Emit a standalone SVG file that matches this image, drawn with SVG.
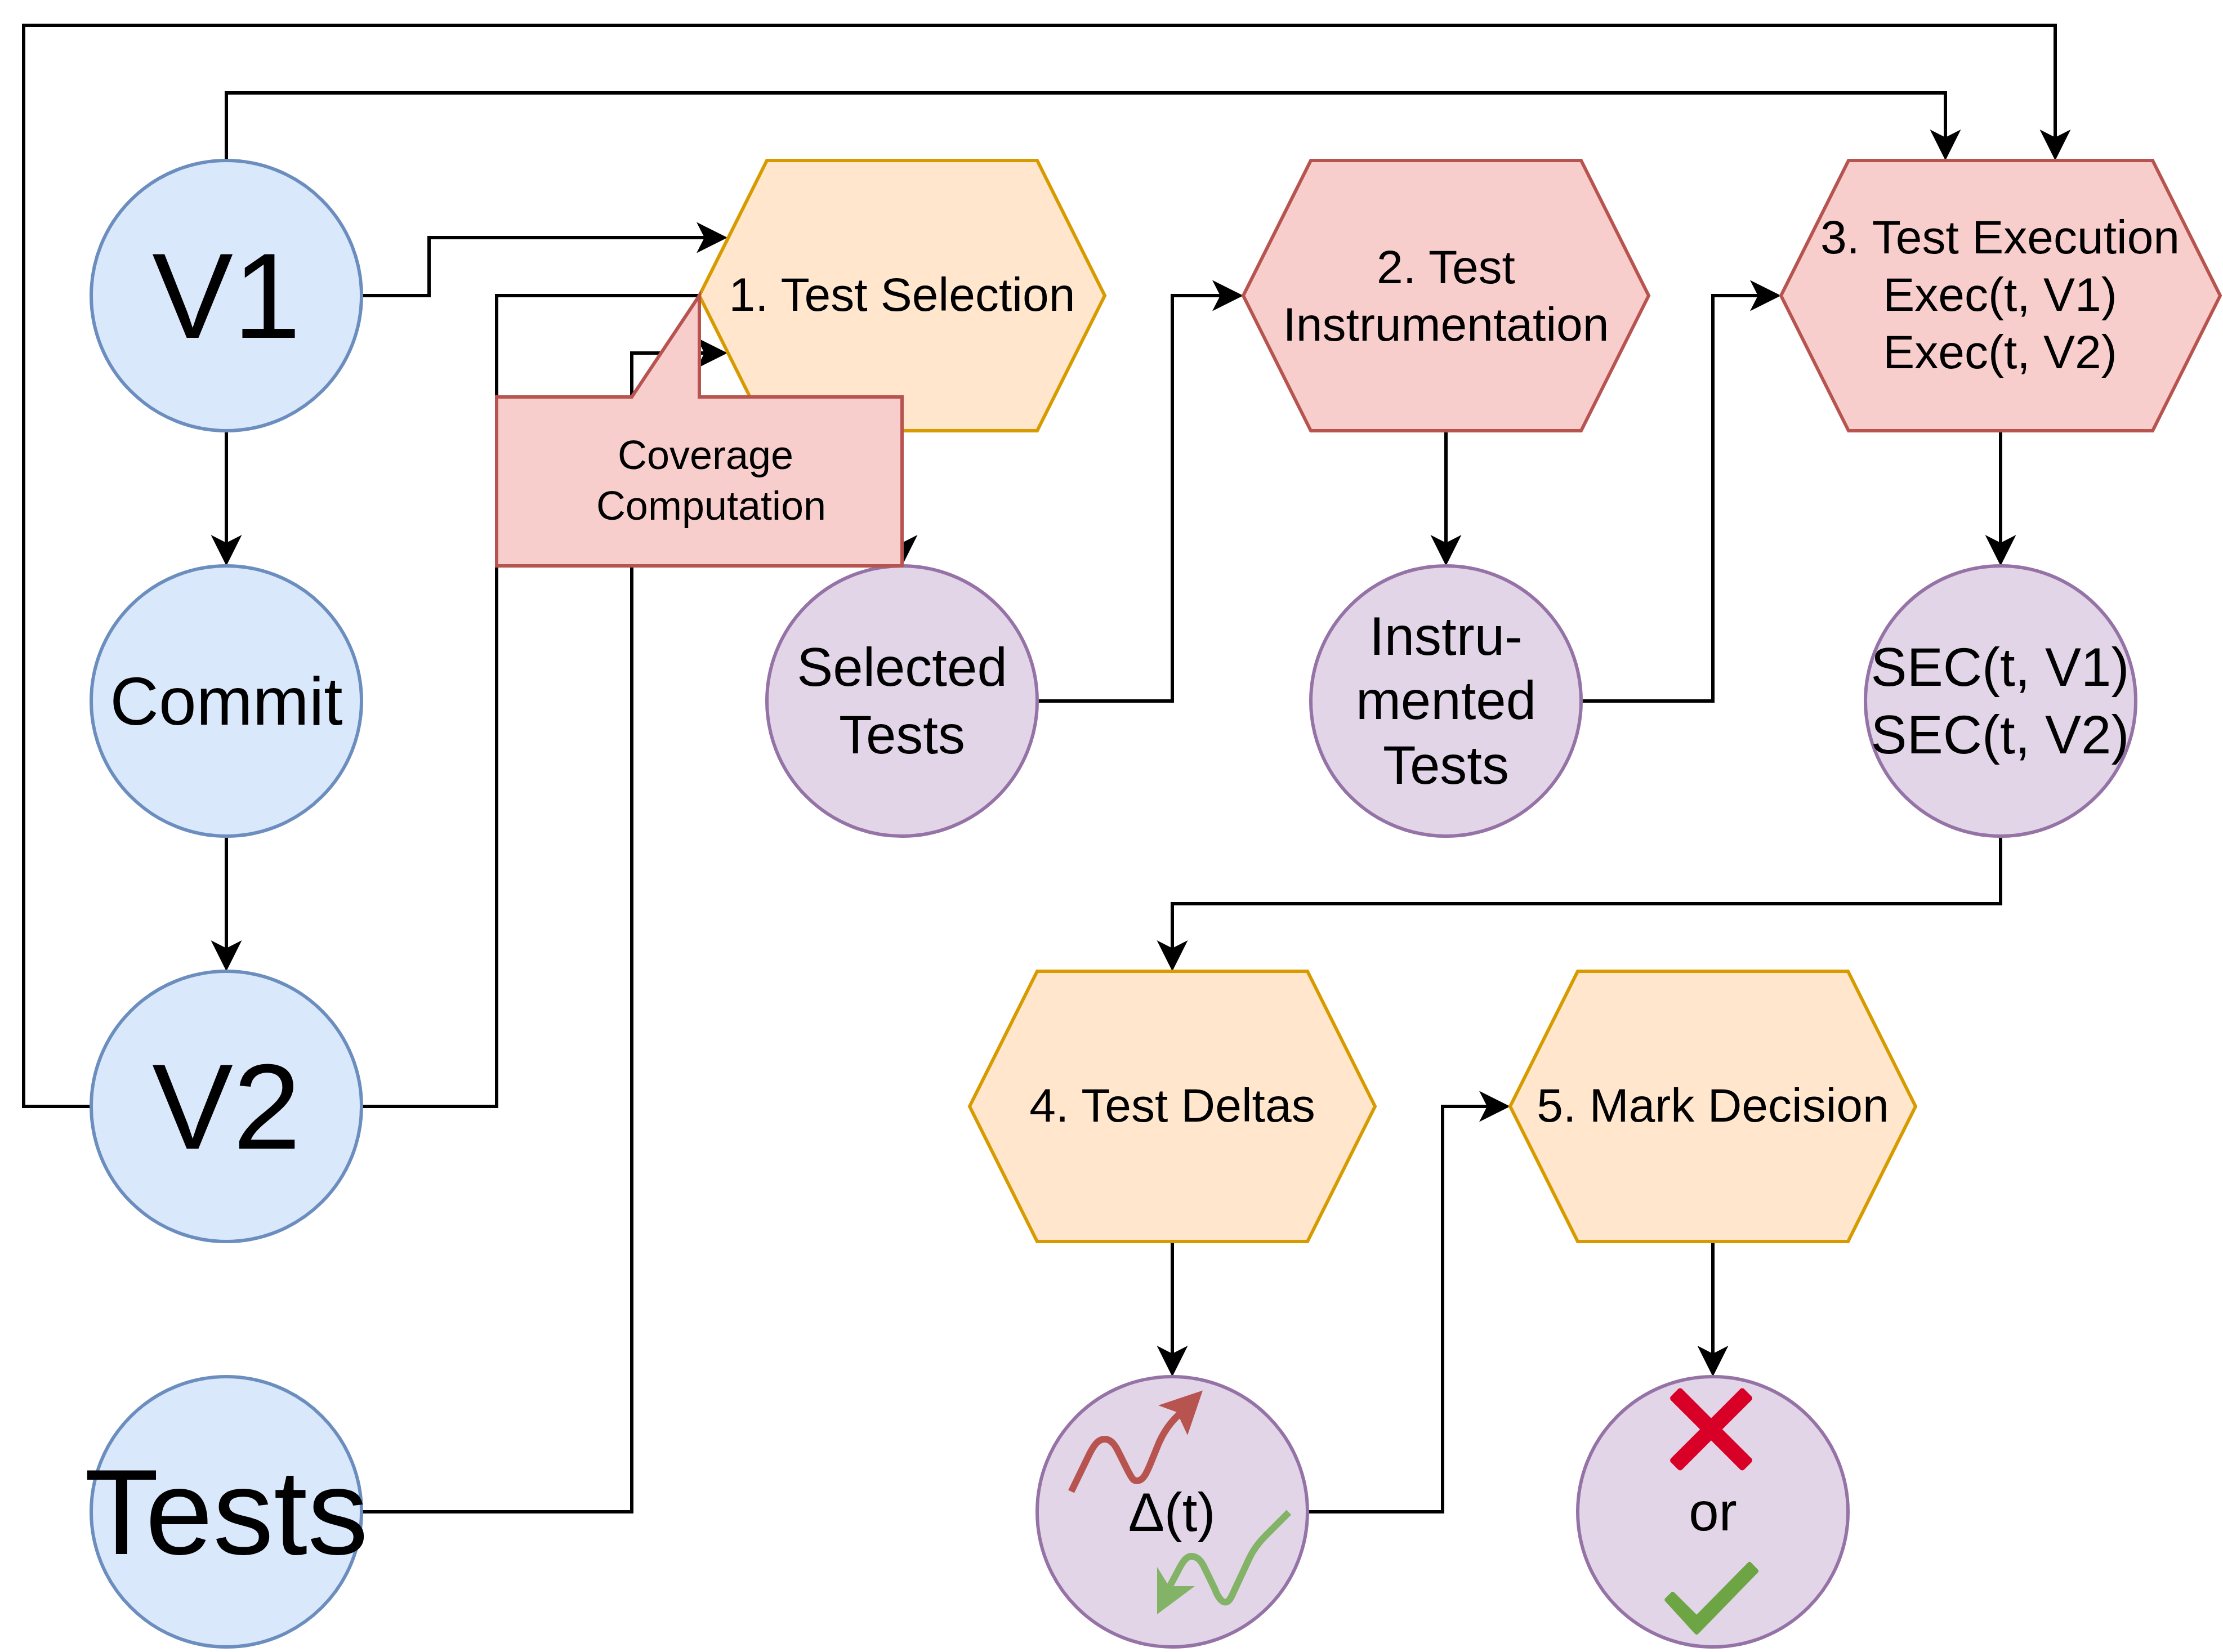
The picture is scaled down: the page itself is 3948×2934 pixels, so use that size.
<svg xmlns="http://www.w3.org/2000/svg" width="3948" height="2934" viewBox="0 0 3948 2934">
<style>
text{font-family:"Liberation Sans",Arial,sans-serif;fill:#000;text-anchor:middle}
.c{fill:none;stroke:#000;stroke-width:6;stroke-linejoin:miter}
.blue{fill:#dae8fc;stroke:#6c8ebf;stroke-width:6}
.purple{fill:#e1d5e7;stroke:#9673a6;stroke-width:6}
.orange{fill:#ffe6cc;stroke:#d79b00;stroke-width:6}
.red{fill:#f8cecc;stroke:#b85450;stroke-width:6}
.f216{font-size:216px}.f120{font-size:120px}.f96{font-size:96px}.f84{font-size:84px}.f72{font-size:72px}
</style>
<defs>
<marker id="arrow" markerUnits="userSpaceOnUse" markerWidth="60" markerHeight="60" viewBox="0 0 60 60" refX="14" refY="30" orient="auto">
<path d="M0 2.500L55 30 0 57.500 14 30Z" fill="#000"/>
</marker>
</defs>
<rect width="3948" height="2934" fill="#fff"/>
<g id="connectors">
<path class="c" marker-end="url(#arrow)" d="M162 1965H42V45H3650V244"/>
<path class="c" marker-end="url(#arrow)" d="M402 285V165H3455V244"/>
<path class="c" marker-end="url(#arrow)" d="M642 525H762V422H1251"/>
<path class="c" d="M642 1965H882V525H1242"/>
<path class="c" marker-end="url(#arrow)" d="M642 2685H1122V627H1251"/>
<path class="c" marker-end="url(#arrow)" d="M402 765V964"/>
<path class="c" marker-end="url(#arrow)" d="M402 1485V1684"/>
<path class="c" marker-end="url(#arrow)" d="M1602 765V964"/>
<path class="c" marker-end="url(#arrow)" d="M1842 1245H2082V525H2167"/>
<path class="c" marker-end="url(#arrow)" d="M2568 765V964"/>
<path class="c" marker-end="url(#arrow)" d="M2808 1245H3042V525H3122"/>
<path class="c" marker-end="url(#arrow)" d="M3553 765V964"/>
<path class="c" marker-end="url(#arrow)" d="M3553 1485V1605H2082V1684"/>
<path class="c" marker-end="url(#arrow)" d="M2082 2205V2404"/>
<path class="c" marker-end="url(#arrow)" d="M2322 2685H2562V1965H2641"/>
<path class="c" marker-end="url(#arrow)" d="M3042 2205V2404"/>
</g>
<g id="v1"><circle class="blue" cx="402" cy="525" r="240"/><text class="f216" x="402" y="600">V1</text></g>
<g id="commit"><circle class="blue" cx="402" cy="1245" r="240"/><text class="f120" x="402" y="1287">Commit</text></g>
<g id="v2"><circle class="blue" cx="402" cy="1965" r="240"/><text class="f216" x="402" y="2040">V2</text></g>
<g id="tests"><circle class="blue" cx="402" cy="2685" r="240"/><text class="f216" x="402" y="2760">Tests</text></g>
<g id="test-selection"><polygon class="orange" points="1362,285 1842,285 1962,525 1842,765 1362,765 1242,525"/><text class="f84" x="1602" y="552">1. Test Selection</text></g>
<g id="test-instrumentation"><polygon class="red" points="2328,285 2808,285 2928,525 2808,765 2328,765 2208,525"/><text class="f84" x="2568" y="503">2. Test</text><text class="f84" x="2568" y="605">Instrumentation</text></g>
<g id="test-execution"><polygon class="red" points="3283,285 3823,285 3943,525 3823,765 3283,765 3163,525"/><text class="f84" x="3552" y="450">3. Test Execution</text><text class="f84" x="3552" y="552">Exec(t, V1)</text><text class="f84" x="3552" y="654">Exec(t, V2)</text></g>
<g id="selected-tests"><circle class="purple" cx="1602" cy="1245" r="240"/><text class="f96" x="1602" y="1218">Selected</text><text class="f96" x="1602" y="1338">Tests</text></g>
<g id="instrumented-tests"><circle class="purple" cx="2568" cy="1245" r="240"/><text class="f96" x="2568" y="1163">Instru-</text><text class="f96" x="2568" y="1277">mented</text><text class="f96" x="2568" y="1392">Tests</text></g>
<g id="sec"><circle class="purple" cx="3553" cy="1245" r="240"/><text class="f96" x="3552" y="1218">SEC(t, V1)</text><text class="f96" x="3552" y="1338">SEC(t, V2)</text></g>
<g id="test-deltas"><polygon class="orange" points="1842,1725 2322,1725 2442,1965 2322,2205 1842,2205 1722,1965"/><text class="f84" x="2082" y="1992">4. Test Deltas</text></g>
<g id="mark-decision"><polygon class="orange" points="2802,1725 3282,1725 3402,1965 3282,2205 2802,2205 2682,1965"/><text class="f84" x="3042" y="1992">5. Mark Decision</text></g>
<g id="delta"><circle class="purple" cx="2082" cy="2685" r="240"/><text class="f96" x="2081" y="2719">Δ(t)</text>
<path d="M1902.500 2649L1936 2580C1944 2565 1951 2556 1962 2556C1973 2556 1980 2566 1985 2576L2004 2614C2009 2623 2012 2630 2019 2630C2030 2630 2036 2617 2043 2600L2058 2563C2068 2540 2080 2525 2094 2512" fill="none" stroke="#b85450" stroke-width="12"/>
<polygon points="2136,2469.500 2057,2496 2090,2508 2109,2549" fill="#b85450"/>
<path d="M2289 2686L2248 2727C2234 2741 2226 2752 2219 2767L2192 2825C2187 2836 2183 2845.500 2176.400 2845.500C2168 2845.500 2161 2832 2157 2821L2137 2780C2131 2769 2125 2764 2115.700 2764C2106 2764 2099 2776 2092 2790L2076 2820" fill="none" stroke="#82b366" stroke-width="12"/>
<polygon points="2055,2783 2076,2817 2122,2817 2055,2867" fill="#82b366"/></g>
<g id="mark"><circle class="purple" cx="3042" cy="2685" r="240"/><text class="f96" x="3042" y="2718">or</text>
<g fill="#d80027"><rect x="2947" y="2524.500" width="184" height="28" rx="5" transform="rotate(45 3039 2538.500)"/><rect x="2947" y="2524.500" width="184" height="28" rx="5" transform="rotate(-45 3039 2538.500)"/></g>
<path d="M3013.200 2899L2960.400 2841.300L2970.700 2831.200L3013.200 2873.300L3107.100 2778L3119 2790.200Z" fill="#6da544" stroke="#6da544" stroke-width="8" stroke-linejoin="round"/></g>
<g id="coverage-computation"><polygon class="red" points="882,705 1122,705 1242,525 1242,705 1602,705 1602,1005 882,1005"/><text class="f72" x="1253" y="833">Coverage</text><text class="f72" x="1263" y="923">Computation</text></g>
</svg>
